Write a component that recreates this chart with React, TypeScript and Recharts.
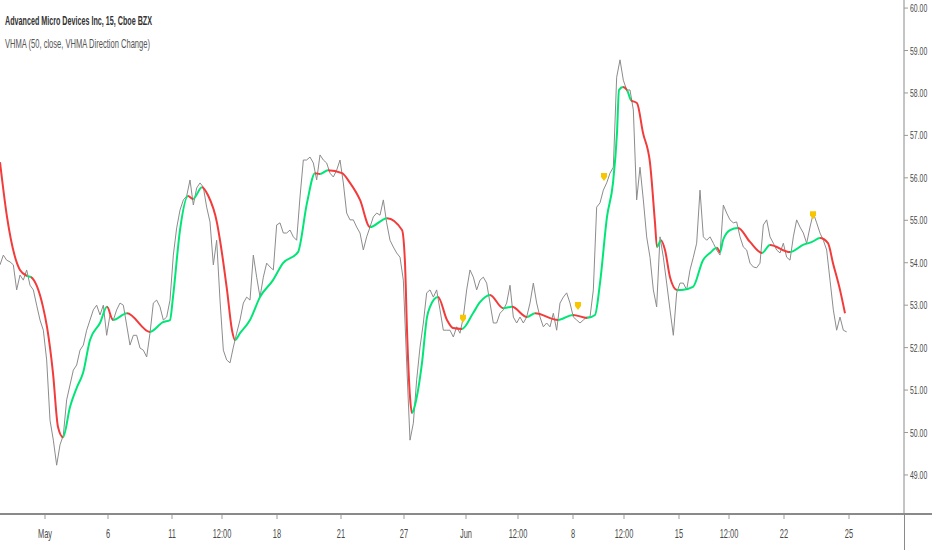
import React from "react";
import { ComposedChart, Line, Scatter, XAxis, YAxis } from "recharts";

// 15-minute closes, one per bar index
const priceClose = [
  53.95, 54.18, 54.06, 54.02, 53.95, 53.36, 53.71, 53.59, 53.83, 53.47,
  53.36, 53.0, 52.65, 52.41, 51.71, 50.29, 49.82, 49.23, 49.71, 49.94,
  50.77, 51.12, 51.47, 51.59, 51.94, 52.06, 52.41, 52.65, 52.89, 53.0,
  52.77, 53.0, 52.29, 52.77, 52.65, 52.89, 53.05, 53.0, 52.53, 52.06,
  52.29, 52.29, 51.99, 51.94, 51.78, 52.34, 53.05, 53.12, 52.96, 52.65,
  52.72, 53.12, 54.18, 54.82, 55.24, 55.48, 55.57, 55.95, 55.36, 55.76,
  55.88, 55.78, 55.31, 54.96, 53.95, 54.53, 53.12, 51.94, 51.71, 51.64,
  52.01, 52.34, 52.65, 53.05, 53.19, 53.12, 54.18, 53.66, 53.19, 53.66,
  53.99, 53.9, 53.83, 54.89, 54.94, 54.7, 54.7, 54.77, 54.61, 54.53,
  55.55, 56.42, 56.42, 56.49, 56.35, 55.95, 56.54, 56.42, 56.35, 56.11,
  56.02, 56.18, 56.42, 55.88, 55.17, 55.01, 55.01, 54.84, 54.7, 54.3,
  54.61, 54.84, 55.08, 55.17, 55.12, 55.48, 54.94, 54.53, 54.37, 54.23,
  54.13, 53.59, 51.64, 49.82, 50.22, 51.24, 52.01, 52.58, 53.29, 53.36,
  53.19, 53.36, 52.89, 52.41, 52.41, 52.41, 52.25, 52.49, 52.34, 52.72,
  53.36, 53.83, 53.66, 53.36, 53.59, 53.66, 53.52, 53.05, 52.58, 52.58,
  52.81, 52.89, 53.05, 53.47, 52.72, 52.58, 52.72, 52.58, 52.72, 53.05,
  53.52, 53.05, 52.72, 52.49, 52.58, 52.49, 52.81, 52.41, 53.05, 53.19,
  53.29, 53.05, 52.72, 52.65, 52.58, 52.65, 52.72, 52.72, 53.36, 55.31,
  55.41, 55.71, 55.88, 56.11, 56.25, 58.37, 58.78, 58.3, 58.07, 58.07,
  57.6, 55.48, 56.25, 55.48, 54.61, 54.13, 53.36, 52.96, 54.61, 54.13,
  53.52, 52.89, 52.29, 53.29, 53.52, 53.52, 53.36, 53.83, 54.13, 54.46,
  55.71, 54.61, 54.53, 54.61, 54.46, 54.3, 54.18, 55.36, 55.17, 55.01,
  54.94, 54.96, 54.61, 54.37, 54.3, 53.99, 53.9, 53.88, 53.99, 54.89,
  55.01, 54.61, 54.46, 54.3, 54.23, 54.46, 54.13, 54.06, 54.61, 55.01,
  54.84, 54.7, 54.46, 54.84, 55.17, 54.94, 54.7, 54.53, 54.3, 53.59,
  52.89, 52.41, 52.72, 52.41, 52.37,
];

// VHMA knots (bar index, value) and direction of the segment ending at each knot
const vhmaT = [
  0, 2.1, 6, 8.1, 9.3, 12.9, 14.1, 15.9, 17.4, 18.9,
  21, 23.1, 24.9, 27, 30, 32.1, 33.9, 38.1, 45, 48.9,
  51, 51.9, 54, 56.4, 57.9, 60.6, 62.4, 65.1, 66, 68.1,
  69.6, 70.5, 72, 75, 78, 81.9, 84.9, 89.4, 92.1, 94.5,
  96, 98.4, 102.6, 105, 108, 111, 116.1, 120.6, 121.5, 122.1,
  123, 123.6, 124.5, 126.6, 128.1, 129, 131.4, 134.1, 135.9, 138.6,
  141.9, 144, 147, 150.9, 153.6, 158.1, 160.5, 167.4, 171.9, 176.1,
  178.5, 180, 182.1, 183.9, 185.1, 185.7, 186.9, 188.1, 189.3, 191.1,
  192.9, 195, 196.5, 197.1, 198.3, 199.5, 201, 203.1, 204.6, 207.9,
  210.9, 213, 215.1, 216, 216.9, 219, 221.4, 225, 228.6, 231,
  237, 240.9, 243.6, 246, 248.4, 249.9, 252, 253.5,
];
const vhmaV = [
  56.37, 55.08, 53.83, 53.69, 53.66, 52.96, 52.49, 51.4, 50.13, 49.89,
  50.6, 51.07, 51.4, 52.18, 52.58, 52.96, 52.65, 52.81, 52.37, 52.6,
  52.65, 53.19, 54.77, 55.57, 55.5, 55.78, 55.59, 54.94, 54.53, 53.36,
  52.41, 52.18, 52.34, 52.65, 53.19, 53.59, 53.99, 54.25, 55.41, 56.11,
  56.09, 56.18, 56.11, 55.88, 55.48, 54.84, 55.05, 54.77, 53.99, 52.41,
  50.84, 50.46, 50.65, 51.64, 52.72, 52.96, 53.19, 52.65, 52.46, 52.44,
  52.81, 53.07, 53.24, 52.93, 52.96, 52.72, 52.81, 52.65, 52.77, 52.7,
  52.77, 53.52, 55.08, 55.88, 57.06, 58.07, 58.14, 58.07, 57.83, 57.76,
  57.06, 56.35, 54.94, 54.37, 54.53, 54.3, 53.66, 53.36, 53.36, 53.43,
  54.06, 54.23, 54.35, 54.25, 54.53, 54.77, 54.82, 54.49, 54.23, 54.42,
  54.25, 54.42, 54.49, 54.58, 54.46, 53.99, 53.36, 52.81,
];
const vhmaDir = (
  "-ddduddddd" + "uuuuuududu" + "uuuududddd" + "dduuuuuuuu" + "dudddduddd" +
  "dduuuuuddd" + "uuudududud" + "uuuuuuudud" + "dddduddduu" + "uuuduuuddu" +
  "duuudddd"
).split("");

// direction-change signals
const signalT = [138.9, 173.4, 181.2, 243.9];
const signalV = [52.68, 52.98, 56.02, 55.12];

const xTickT = [13.5, 32.4, 51.6, 66.6, 83.1, 102.3, 121.2, 139.8, 155.4, 171.9, 187.2, 203.7, 218.7, 235.2, 254.7];
const xTickLabels = ["May", "6", "11", "12:00", "18", "21", "27", "Jun", "12:00", "8", "12:00", "15", "12:00", "22", "25"];
const yTicks = [49, 50, 51, 52, 53, 54, 55, 56, 57, 58, 59, 60];

const UP = "#00e676";
const DOWN = "#f23b3b";
const FONT = "'Liberation Sans', Arial, sans-serif";

const priceData = priceClose.map((v, i) => ({ t: i, close: v }));
const vhmaData = vhmaT.map((t, i) => ({ t, vhma: vhmaV[i] }));
const signalData = signalT.map((t, i) => ({ t, sig: signalV[i] }));

const tMax = vhmaT[vhmaT.length - 1];
const gradStops: { off: number; color: string }[] = [];
for (let k = 1; k < vhmaT.length; k++) {
  const c = vhmaDir[k] === "u" ? UP : DOWN;
  gradStops.push({ off: vhmaT[k - 1] / tMax, color: c });
  gradStops.push({ off: vhmaT[k] / tMax, color: c });
}

function XTick(props: any) {
  const { x, y, payload } = props;
  const idx = xTickT.indexOf(payload.value);
  return (
    <g>
      <line x1={x} x2={x} y1={y + 1} y2={y + 5} stroke="#9a9a9a" />
      <text
        transform={`translate(${x},${y + 24}) scale(0.62,1)`}
        textAnchor="middle"
        fontSize={12}
        fontFamily={FONT}
        fill="#4a4a4a"
      >
        {xTickLabels[idx]}
      </text>
    </g>
  );
}

function YTick(props: any) {
  const { x, y, payload } = props;
  return (
    <g>
      <line x1={x} x2={x + 4} y1={y} y2={y} stroke="#9a9a9a" />
      <text
        transform={`translate(${x + 6},${y + 4}) scale(0.6,1)`}
        textAnchor="start"
        fontSize={11.5}
        fontFamily={FONT}
        fill="#4a4a4a"
      >
        {payload.value.toFixed(2)}
      </text>
    </g>
  );
}

function SignalMark(props: any) {
  const { cx, cy } = props;
  if (cx == null || cy == null) return null;
  return (
    <path
      d={`M${cx - 3},${cy - 4} L${cx + 3},${cy - 4} L${cx + 3},${cy} L${cx},${cy + 4} L${cx - 3},${cy} Z`}
      fill="#f7c600"
    />
  );
}

export default function App() {
  return (
    <div style={{ position: "absolute", left: 0, top: 0, width: 932, height: 550, background: "#fff" }}>
      <ComposedChart width={932} height={550} margin={{ top: 0, right: 0, bottom: 0, left: 0 }}>
        <defs>
          <linearGradient id="vhmaGrad" x1="0" y1="0" x2="1" y2="0">
            {gradStops.map((s, i) => (
              <stop key={i} offset={s.off} stopColor={s.color} />
            ))}
          </linearGradient>
        </defs>
        <XAxis
          type="number"
          dataKey="t"
          domain={[0, 271.2]}
          allowDataOverflow
          ticks={xTickT}
          interval={0}
          height={36}
          tickSize={0}
          tickMargin={0}
          tickLine={false}
          axisLine={{ stroke: "#8a8a8a", strokeWidth: 2 }}
          tick={<XTick />}
        />
        <YAxis
          orientation="right"
          type="number"
          domain={[48.08, 60.19]}
          allowDataOverflow
          ticks={yTicks}
          interval={0}
          width={28}
          tickSize={0}
          tickMargin={0}
          tickLine={false}
          axisLine={{ stroke: "#8a8a8a" }}
          tick={<YTick />}
        />
        <Line
          data={priceData}
          dataKey="close"
          type="linear"
          stroke="#8c8c8c"
          strokeWidth={1}
          dot={false}
          activeDot={false}
          isAnimationActive={false}
        />
        <Line
          data={vhmaData}
          dataKey="vhma"
          type="monotone"
          stroke="url(#vhmaGrad)"
          strokeWidth={2}
          dot={false}
          activeDot={false}
          isAnimationActive={false}
        />
        <Scatter data={signalData} dataKey="sig" shape={<SignalMark />} isAnimationActive={false} />
      </ComposedChart>
      <div style={{ position: "absolute", left: 904, top: 513, width: 28, height: 2, background: "#8a8a8a" }} />
      <div style={{ position: "absolute", left: 904, top: 514, width: 1, height: 36, background: "#8a8a8a" }} />
      <svg width={300} height={60} style={{ position: "absolute", left: 0, top: 0 }}>
        <text x={5} y={25} fontSize={13} fontWeight={600} fontFamily={FONT} fill="#333" textLength={147} lengthAdjust="spacingAndGlyphs">
          Advanced Micro Devices Inc, 15, Cboe BZX
        </text>
        <text x={5} y={48} fontSize={13} fontFamily={FONT} fill="#555" textLength={145} lengthAdjust="spacingAndGlyphs">
          VHMA (50, close, VHMA Direction Change)
        </text>
      </svg>
    </div>
  );
}
